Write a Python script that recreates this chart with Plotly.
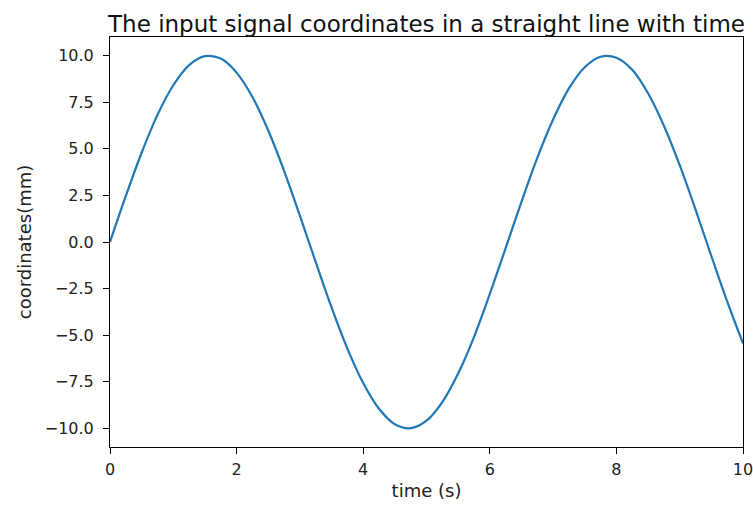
import plotly.graph_objects as go

# time (s) and signal coordinates (mm)
time_s = [0.0, 0.25, 0.5, 0.75, 1.0, 1.25, 1.5, 1.75, 2.0, 2.25, 2.5, 2.75,
          3.0, 3.25, 3.5, 3.75, 4.0, 4.25, 4.5, 4.75, 5.0, 5.25, 5.5, 5.75,
          6.0, 6.25, 6.5, 6.75, 7.0, 7.25, 7.5, 7.75, 8.0, 8.25, 8.5, 8.75,
          9.0, 9.25, 9.5, 9.75, 10.0]
coord_mm = [0.0, 2.47, 4.79, 6.82, 8.41, 9.49, 9.97, 9.84, 9.09, 7.78, 5.98, 3.82,
            1.41, -1.08, -3.51, -5.72, -7.57, -8.95, -9.78, -9.99, -9.59, -8.59, -7.06, -5.10,
            -2.79, -0.33, 2.15, 4.51, 6.57, 8.24, 9.38, 9.94, 9.89, 9.24, 7.98, 6.24,
            4.12, 1.74, -0.75, -3.19, -5.44]

x_ticks = [0, 2, 4, 6, 8, 10]
y_ticks = [10.0, 7.5, 5.0, 2.5, 0.0, -2.5, -5.0, -7.5, -10.0]
y_ticktext = [f"{v:.1f}".replace("-", "\u2212") for v in y_ticks]

font = "DejaVu Sans"

fig = go.Figure()
fig.add_trace(go.Scatter(x=time_s, y=coord_mm, mode="lines",
                         line=dict(color="#1f77b4", width=2.2, shape="spline", smoothing=1.0),
                         showlegend=False))

fig.update_layout(
    width=753, height=510,
    margin=dict(l=110, r=10, t=37, b=63, autoexpand=False),
    paper_bgcolor="white", plot_bgcolor="white",
    font=dict(family=font, color="#222222", size=16),
    title=dict(text="The input signal coordinates in a straight line with time",
               x=0.5, xref="paper", xanchor="center",
               y=1, yref="paper", yanchor="bottom", pad=dict(b=5),
               font=dict(family=font, size=23, color="#111111")),
)
fig.update_xaxes(range=[0, 10], tickvals=x_ticks, ticktext=[str(v) for v in x_ticks],
                 ticks="outside", ticklen=6, tickwidth=1, tickcolor="black",
                 showline=True, linecolor="black", linewidth=1, mirror=True,
                 showgrid=False, zeroline=False, ticklabelstandoff=2,
                 ticklabeloverflow="allow", automargin=False,
                 title=dict(text="time (s)", font=dict(size=18), standoff=6),
                 tickfont=dict(size=16))
fig.update_yaxes(range=[-11, 11], tickvals=y_ticks, ticktext=y_ticktext,
                 ticks="outside", ticklen=6, tickwidth=1, tickcolor="black",
                 showline=True, linecolor="black", linewidth=1, mirror=True,
                 showgrid=False, zeroline=False, ticklabelstandoff=6,
                 ticklabeloverflow="allow", automargin=False,
                 title=dict(text="coordinates(mm)", font=dict(size=18), standoff=8),
                 tickfont=dict(size=16))

fig.write_html("out.html")
